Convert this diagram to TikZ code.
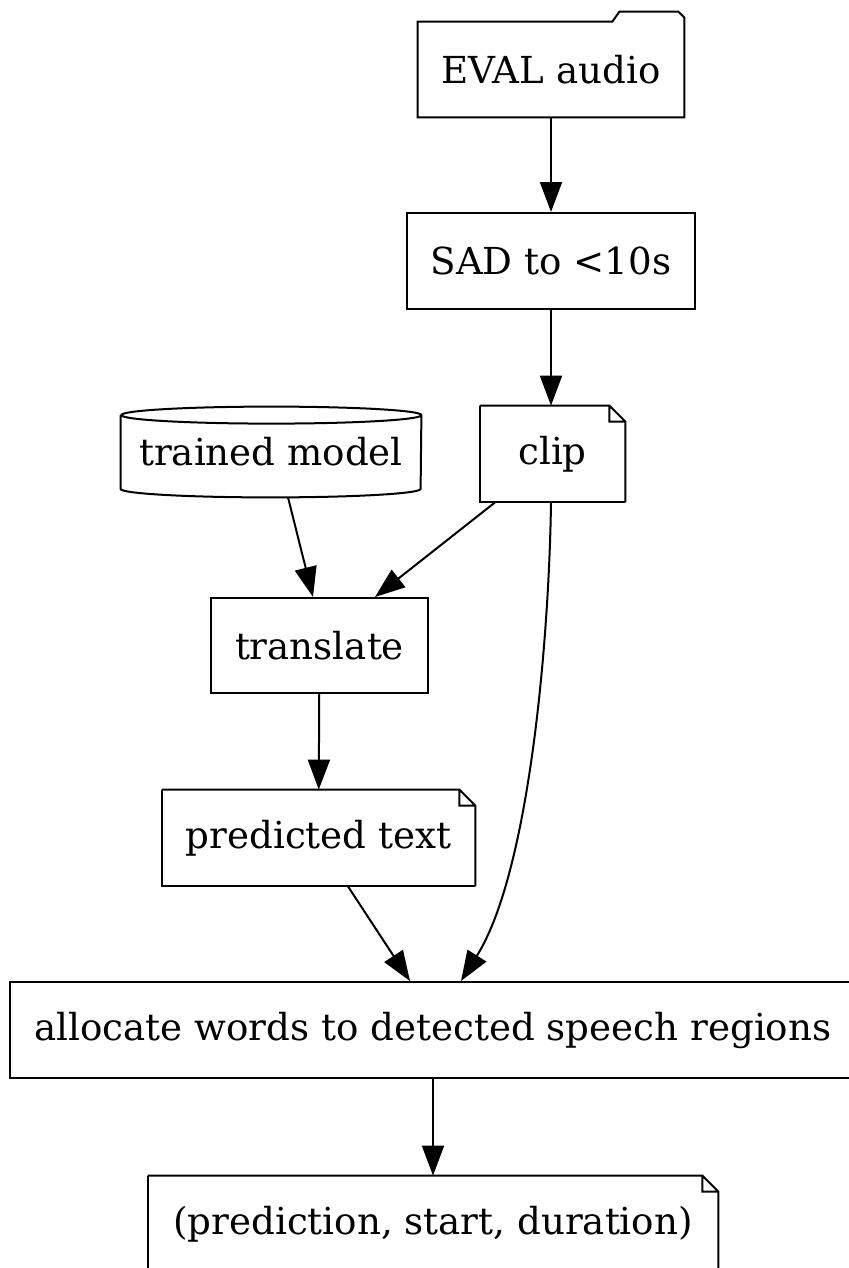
\documentclass[tikz,border=0pt]{standalone}
\usepackage{fontspec}
\setmainfont{DejaVu Serif}
\usetikzlibrary{arrows.meta,calc}
\tikzset{
  box/.style={draw,line width=1pt,minimum height=48pt,inner sep=0pt},
  plain/.style={inner sep=0pt,minimum height=48pt},
  link/.style={line width=1pt,-{Triangle[length=15pt,width=11pt]}},
  edge/.style={line width=1pt},
}
% folded corner on a note
\newcommand{\notefold}[1]{%
  \draw[edge] (#1.north west) -- ([xshift=-8pt]#1.north east) |- ([yshift=-8pt]#1.north east)
    (#1.south east) |- ([yshift=-8pt]#1.north east) -- ([xshift=-8pt]#1.north east);
  \draw[edge] (#1.south east) -- (#1.south west) -- (#1.north west);}
\begin{document}
\begin{tikzpicture}[x=0.5pt,y=-0.5pt,font=\fontsize{18.6}{22}\selectfont]
\useasboundingbox (0,0) rectangle (849,1268);
\clip (0,0) rectangle (849,1268);
% nodes
\node[plain,minimum width=133pt,minimum height=47.5pt] (eval) at (551,69.5) {EVAL audio};
\node[box,minimum width=144pt] (sad) at (551,261) {SAD to <10s};
\node[plain,minimum width=72.5pt] (clip) at (552.5,454) {clip};
\node[plain,minimum width=150pt,minimum height=45pt] (model) at (271,452) {trained model};
\node[box,minimum width=108.5pt,minimum height=47.5pt] (translate) at (319.5,645.5) {translate};
\node[plain,minimum width=156.5pt] (predicted) at (318.5,838) {predicted text};
\node[box,minimum width=423pt] (allocate) at (433,1030) {allocate words to detected speech regions};
\node[plain,minimum width=285pt] (output) at (433,1224) {(prediction, start, duration)};
% outlines
\draw[edge] (eval.south east) -- (eval.south west) -- (eval.north west)
  -- ([xshift=-36pt]eval.north east) -- ++(3.5pt,5pt) -- ++(29.5pt,0pt) -- ++(3pt,-3pt)
  -- (eval.north east) -- cycle;
\notefold{clip}
\notefold{predicted}
\notefold{output}
\draw[edge] ([yshift=-4.25pt]model.north west) -- ([yshift=4.25pt]model.south west)
  arc[start angle=180,end angle=360,x radius=75pt,y radius=4.25pt]
  -- ([yshift=-4.25pt]model.north east)
  arc[start angle=0,end angle=180,x radius=75pt,y radius=4.25pt]
  arc[start angle=180,end angle=360,x radius=75pt,y radius=4.25pt];
% connectors
\draw[link] (eval) -- (sad);
\draw[link] (sad) -- ([xshift=-0.75pt]clip.north);
\draw[link] ([xshift=8.5pt]model.south) -- ([xshift=-3.25pt]translate.north);
\draw[link] ([xshift=-28.75pt]clip.south) -- ([xshift=27.75pt]translate.north);
\draw[link] (translate) -- (predicted);
\draw[link] ([xshift=-0.75pt]clip.south) .. controls ++(-1pt,-70pt) and ++(34pt,54pt) .. ([xshift=14pt]allocate.north);
\draw[link] ([xshift=14.75pt]predicted.south) -- ([xshift=-11.5pt]allocate.north);
\draw[link] (allocate) -- (output);
\end{tikzpicture}
\end{document}
